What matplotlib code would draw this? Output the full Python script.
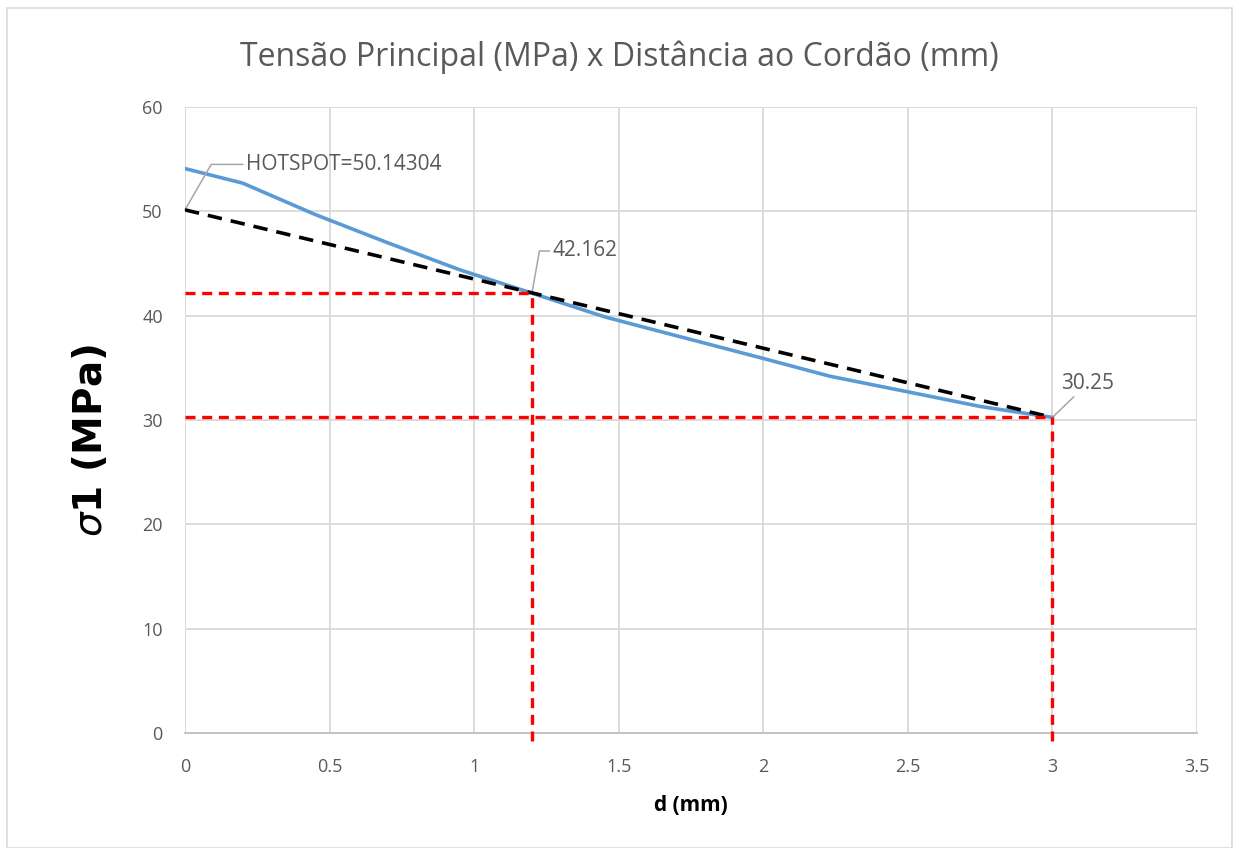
import matplotlib.pyplot as plt
from matplotlib.patches import Rectangle

# stress along the distance from the weld bead
dist_mm = [0, 0.2, 0.45, 0.7, 0.95, 1.2, 1.45, 1.6, 2.0, 2.23, 2.5, 2.75, 3.0]
sigma1 = [54.1, 52.7, 49.7, 47.0, 44.4, 42.16, 39.9, 38.8, 35.9, 34.2, 32.7, 31.3, 30.25]

# extrapolation line and read-out points
hotspot = 50.14304
ref_x = [1.2, 3.0]
ref_y = [42.162, 30.25]

x_ticks = [0, 0.5, 1, 1.5, 2, 2.5, 3, 3.5]
y_ticks = [0, 10, 20, 30, 40, 50, 60]

grey = '#595959'

fig = plt.figure(figsize=(12.39, 8.48), dpi=100)
fig.patches.append(Rectangle((0.006, 0.0), 0.988, 0.99, transform=fig.transFigure,
                             fill=False, edgecolor='#D9D9D9', linewidth=1.2))
ax = fig.add_axes([0.1493, 0.1356, 0.8168, 0.7382])

ax.plot(dist_mm, sigma1, color='#5B9BD5', linewidth=2.6, zorder=3)
ax.plot([0, ref_x[1]], [hotspot, ref_y[1]], color='black', linewidth=2.6,
        dashes=(4, 2.5), zorder=4)

for rx, ry in zip(ref_x, ref_y):
    ax.plot([0, rx], [ry, ry], color='#FF0000', linewidth=2.4, dashes=(3, 2), zorder=5)
    ax.plot([rx, rx], [-0.8, ry], color='#FF0000', linewidth=2.4, dashes=(3, 2),
            zorder=5, clip_on=False)

# data labels with leader lines
lead = dict(arrowstyle='-', color='#A6A6A6', linewidth=1.1, shrinkA=0, shrinkB=0)
ax.annotate('HOTSPOT=' + str(hotspot), xy=(0, hotspot), xytext=(0.21, 54.5),
            fontsize=15, color=grey, va='center', family='Open Sans',
            arrowprops=dict(lead, connectionstyle='angle,angleA=180,angleB=60,rad=0'))
ax.annotate(str(ref_y[0]), xy=(ref_x[0], ref_y[0]), xytext=(1.27, 46.2),
            fontsize=15, color=grey, va='center', family='Open Sans',
            arrowprops=dict(lead, connectionstyle='angle,angleA=180,angleB=80,rad=0'))
ax.annotate(str(ref_y[1]), xy=(ref_x[1], ref_y[1]), xytext=(3.03, 33.5),
            fontsize=15, color=grey, va='center', family='Open Sans',
            arrowprops=dict(lead, connectionstyle='arc3'))

ax.set_xlim(0, 3.5)
ax.set_ylim(0, 60)
ax.set_xticks(x_ticks)
ax.set_xticklabels([f'{t:g}' for t in x_ticks])
ax.set_yticks(y_ticks)
ax.grid(True, color='#D9D9D9', linewidth=1.3)
ax.set_axisbelow(True)
for side in ['top', 'right', 'left']:
    ax.spines[side].set_visible(False)
ax.spines['bottom'].set_color('#BFBFBF')
ax.spines['bottom'].set_linewidth(1.3)
ax.tick_params(axis='x', length=0, labelsize=13, labelcolor=grey, pad=18)
ax.tick_params(axis='y', length=0, labelsize=13, labelcolor=grey, pad=16)
for lab in ax.get_xticklabels() + ax.get_yticklabels():
    lab.set_family('Open Sans')

ax.set_xlabel('d (mm)', fontsize=15, fontweight='bold', family='Open Sans', labelpad=14)
fig.text(0.073, 0.48, r'$\sigma$1 (MPa)', rotation=90, ha='center', va='center',
         fontsize=28, fontweight='bold', family='DejaVu Sans')
fig.text(0.5, 0.932, 'Tensão Principal (MPa) x Distância ao Cordão (mm)', ha='center',
         va='center', fontsize=23, color=grey, family='Open Sans')

fig.savefig('out.png', dpi=100)
